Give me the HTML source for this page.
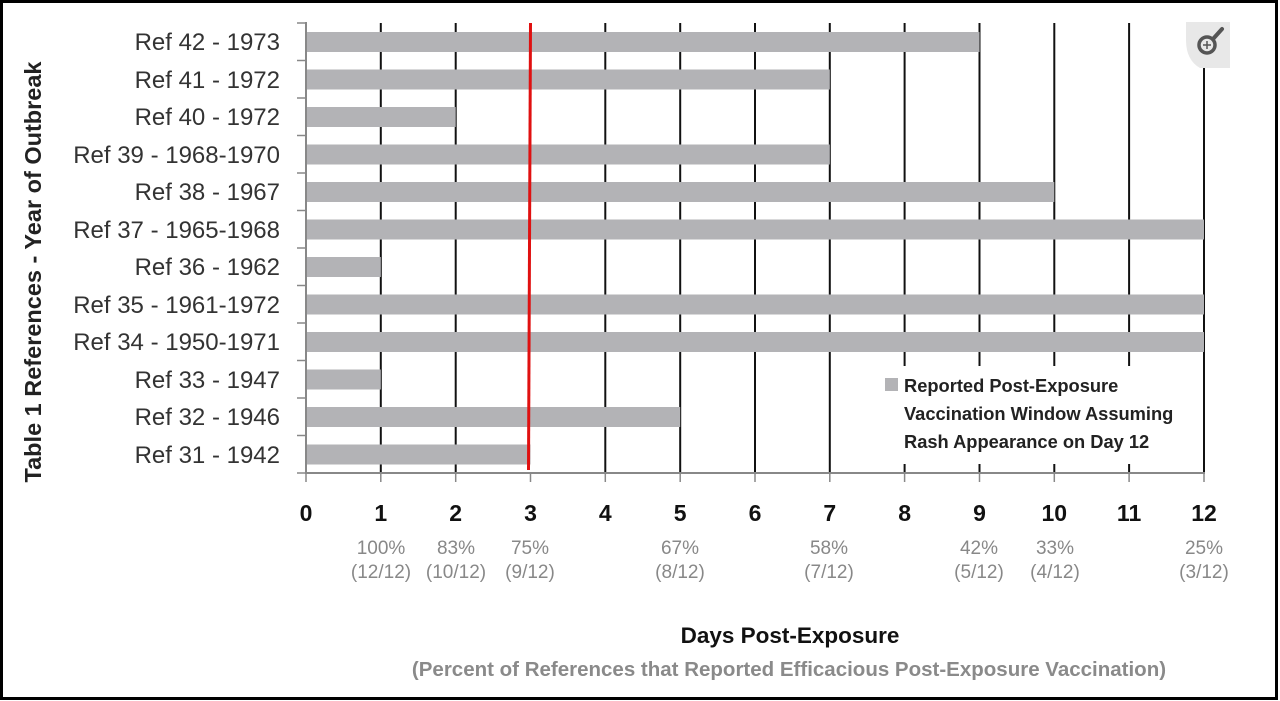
<!DOCTYPE html>
<html><head><meta charset="utf-8"><style>
html,body{margin:0;padding:0;background:#fff}
svg{display:block}
text{font-family:"Liberation Sans",Carlito,sans-serif}
</style></head><body>
<svg width="1280" height="701" viewBox="0 0 1280 701" xmlns="http://www.w3.org/2000/svg">
<rect x="1.5" y="1.5" width="1275" height="697" fill="#fff" stroke="#000" stroke-width="3"/>
<g stroke="#111" stroke-width="2">
<line x1="380.8" y1="23" x2="380.8" y2="473"/><line x1="455.7" y1="23" x2="455.7" y2="473"/>
<line x1="605.3" y1="23" x2="605.3" y2="473"/><line x1="680.2" y1="23" x2="680.2" y2="473"/>
<line x1="755" y1="23" x2="755" y2="473"/><line x1="829.8" y1="23" x2="829.8" y2="473"/>
<line x1="904.6" y1="23" x2="904.6" y2="473"/><line x1="979.5" y1="23" x2="979.5" y2="473"/>
<line x1="1054.3" y1="23" x2="1054.3" y2="473"/><line x1="1129.1" y1="23" x2="1129.1" y2="473"/>
<line x1="1204" y1="23" x2="1204" y2="473"/>
</g>
<g fill="#b3b3b6">
<rect x="306" y="32" width="673.5" height="20"/>
<rect x="306" y="69.5" width="523.8" height="20"/>
<rect x="306" y="107" width="149.7" height="20"/>
<rect x="306" y="144.5" width="523.8" height="20"/>
<rect x="306" y="182" width="748.3" height="20"/>
<rect x="306" y="219.5" width="898" height="20"/>
<rect x="306" y="257" width="74.8" height="20"/>
<rect x="306" y="294.5" width="898" height="20"/>
<rect x="306" y="332" width="898" height="20"/>
<rect x="306" y="369.5" width="74.8" height="20"/>
<rect x="306" y="407" width="374.2" height="20"/>
<rect x="306" y="444.5" width="224.5" height="20"/>
</g>
<rect x="872" y="366" width="328" height="98" fill="#fff"/>
<rect x="885" y="378" width="13" height="13" fill="#b3b3b6"/>
<g font-size="18.3" font-weight="bold" fill="#222">
<text x="904" y="392">Reported Post-Exposure</text>
<text x="904" y="420">Vaccination Window Assuming</text>
<text x="904" y="448">Rash Appearance on Day 12</text>
</g>
<line x1="530.5" y1="23" x2="528.5" y2="470" stroke="#e01010" stroke-width="3"/>
<g stroke="#888" stroke-width="2">
<line x1="306" y1="22" x2="306" y2="473"/>
<line x1="305" y1="473" x2="1205" y2="473"/>
</g>
<g stroke="#888" stroke-width="1.5">
<line x1="297" y1="23" x2="306" y2="23"/><line x1="297" y1="60.5" x2="306" y2="60.5"/>
<line x1="297" y1="98" x2="306" y2="98"/><line x1="297" y1="135.5" x2="306" y2="135.5"/>
<line x1="297" y1="173" x2="306" y2="173"/><line x1="297" y1="210.5" x2="306" y2="210.5"/>
<line x1="297" y1="248" x2="306" y2="248"/><line x1="297" y1="285.5" x2="306" y2="285.5"/>
<line x1="297" y1="323" x2="306" y2="323"/><line x1="297" y1="360.5" x2="306" y2="360.5"/>
<line x1="297" y1="398" x2="306" y2="398"/><line x1="297" y1="435.5" x2="306" y2="435.5"/>
<line x1="297" y1="473" x2="306" y2="473"/>
<line x1="306" y1="473" x2="306" y2="482"/><line x1="380.8" y1="473" x2="380.8" y2="482"/>
<line x1="455.7" y1="473" x2="455.7" y2="482"/><line x1="530.5" y1="473" x2="530.5" y2="482"/>
<line x1="605.3" y1="473" x2="605.3" y2="482"/><line x1="680.2" y1="473" x2="680.2" y2="482"/>
<line x1="755" y1="473" x2="755" y2="482"/><line x1="829.8" y1="473" x2="829.8" y2="482"/>
<line x1="904.6" y1="473" x2="904.6" y2="482"/><line x1="979.5" y1="473" x2="979.5" y2="482"/>
<line x1="1054.3" y1="473" x2="1054.3" y2="482"/><line x1="1129.1" y1="473" x2="1129.1" y2="482"/>
<line x1="1204" y1="473" x2="1204" y2="482"/>
</g>
<g font-size="24" fill="#333" text-anchor="end">
<text x="280" y="50">Ref 42 - 1973</text>
<text x="280" y="88">Ref 41 - 1972</text>
<text x="280" y="125">Ref 40 - 1972</text>
<text x="280" y="163">Ref 39 - 1968-1970</text>
<text x="280" y="200">Ref 38 - 1967</text>
<text x="280" y="238">Ref 37 - 1965-1968</text>
<text x="280" y="275">Ref 36 - 1962</text>
<text x="280" y="313">Ref 35 - 1961-1972</text>
<text x="280" y="350">Ref 34 - 1950-1971</text>
<text x="280" y="388">Ref 33 - 1947</text>
<text x="280" y="425">Ref 32 - 1946</text>
<text x="280" y="463">Ref 31 - 1942</text>
</g>
<g font-size="23" font-weight="bold" fill="#111" text-anchor="middle">
<text x="306" y="521">0</text><text x="380.8" y="521">1</text><text x="455.7" y="521">2</text>
<text x="530.5" y="521">3</text><text x="605.3" y="521">4</text><text x="680.2" y="521">5</text>
<text x="755" y="521">6</text><text x="829.8" y="521">7</text><text x="904.6" y="521">8</text>
<text x="979.5" y="521">9</text><text x="1054.3" y="521">10</text><text x="1129.1" y="521">11</text>
<text x="1204" y="521">12</text>
</g>
<g font-size="19" fill="#888" text-anchor="middle">
<text x="381" y="554">100%</text><text x="381" y="578">(12/12)</text>
<text x="456" y="554">83%</text><text x="456" y="578">(10/12)</text>
<text x="530" y="554">75%</text><text x="530" y="578">(9/12)</text>
<text x="680" y="554">67%</text><text x="680" y="578">(8/12)</text>
<text x="829" y="554">58%</text><text x="829" y="578">(7/12)</text>
<text x="979" y="554">42%</text><text x="979" y="578">(5/12)</text>
<text x="1055" y="554">33%</text><text x="1055" y="578">(4/12)</text>
<text x="1204" y="554">25%</text><text x="1204" y="578">(3/12)</text>
</g>
<text x="790" y="643" font-size="22.5" font-weight="bold" fill="#111" text-anchor="middle">Days Post-Exposure</text>
<text x="789" y="676" font-size="20.5" font-weight="bold" fill="#8a8a8a" text-anchor="middle">(Percent of References that Reported Efficacious Post-Exposure Vaccination)</text>
<text transform="translate(41,272) rotate(-90)" font-size="23.5" font-weight="bold" fill="#222" text-anchor="middle">Table 1 References - Year of Outbreak</text>
<path d="M1186 22 H1230 V68 H1200 Q1186 60 1186 40 Z" fill="#e8e8e8"/>
<circle cx="1207" cy="45" r="8" fill="none" stroke="#555" stroke-width="3.5"/>
<line x1="1213" y1="39" x2="1222" y2="29" stroke="#555" stroke-width="4" stroke-linecap="round"/>
<line x1="1203" y1="45" x2="1211" y2="45" stroke="#555" stroke-width="1.5"/>
<line x1="1207" y1="41" x2="1207" y2="49" stroke="#555" stroke-width="1.5"/>
</svg>
</body></html>
